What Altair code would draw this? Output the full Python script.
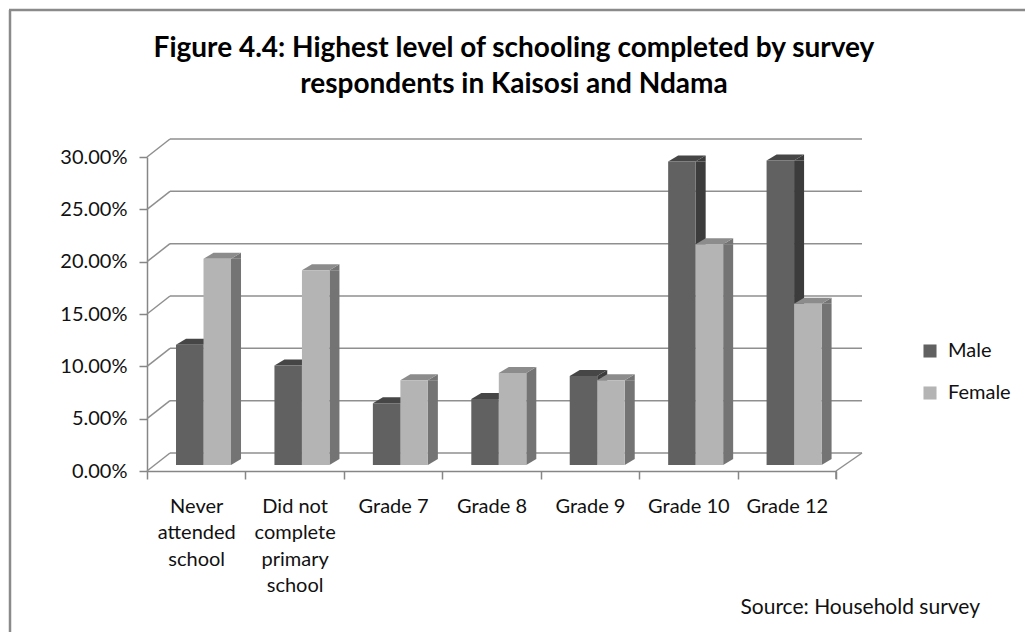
import altair as alt
import pandas as pd

# ---------------- data ----------------
categories = ["Never|attended|school", "Did not|complete|primary|school",
              "Grade 7", "Grade 8", "Grade 9", "Grade 10", "Grade 12"]
male = [0.115, 0.095, 0.059, 0.063, 0.085, 0.290, 0.291]
female = [0.197, 0.186, 0.081, 0.088, 0.081, 0.211, 0.154]
series = ["Male", "Female"]
y_ticks = [0.0, 0.05, 0.10, 0.15, 0.20, 0.25, 0.30]

title_line1 = "Figure 4.4: Highest level of schooling completed by survey"
title_line2 = "respondents in Kaisosi and Ndama"
source_text = "Source: Household survey"

df_m = pd.DataFrame({"cat": categories, "val": male, "zero": 0.0, "series": "Male"})
df_f = pd.DataFrame({"cat": categories, "val": female, "zero": 0.0, "series": "Female"})
df_ticks = pd.DataFrame({"val": y_ticks})

# ---------------- styles ----------------
FONT = "Lato"
W, H = 689, 314
GRID = "#8f8f8f"
AX = "#868686"
front_col = {"Male": "#616161", "Female": "#b4b4b4"}
top_col = {"Male": "#464646", "Female": "#8c8c8c"}
side_col = {"Male": "#3c3c3c", "Female": "#747474"}
DEPTH_Y = -6          # bars sit a little behind the front plane
BW = 27.5             # bar front width
# offsets of the front face centre relative to the band centre
front_dx = {"Male": -6.45, "Female": 21.05}

xs = alt.Scale(domain=categories, paddingInner=0, paddingOuter=0)
ys = alt.Scale(domain=[0, 0.30], nice=False, zero=True)

xaxis = alt.Axis(labelExpr="split(datum.label, '|')", labelAngle=0, labelFont=FONT,
                 labelFontSize=20, labelColor="#111", labelLineHeight=26.5,
                 labelBaseline="top", labelPadding=17, tickBand="extent", tickSize=8,
                 tickColor=AX, tickWidth=1.5, domainColor=AX, domainWidth=1.5,
                 title=None, grid=False)
yaxis = alt.Axis(values=y_ticks, format=".2%", labelFont=FONT, labelFontSize=20,
                 labelColor="#111", labelPadding=12, tickSize=8, tickColor=AX,
                 tickWidth=1.5, domainColor=AX, domainWidth=1.5, title=None, grid=False)

X = alt.X("cat:N", sort=categories, scale=xs, axis=xaxis, title=None)
Y = alt.Y("val:Q", scale=ys, axis=yaxis, title=None)

color_enc = alt.Color("series:N", scale=alt.Scale(domain=series,
                      range=[front_col["Male"], front_col["Female"]]),
                      legend=alt.Legend(orient="none", legendX=773, legendY=184, title=None,
                                        symbolType="square", symbolSize=170,
                                        symbolStrokeWidth=0, labelFont=FONT,
                                        labelFontSize=20, labelColor="#111",
                                        labelOffset=8, rowPadding=22, padding=0))

# ---------------- walls / floor ----------------
back_grid = alt.Chart(df_ticks).mark_rule(color=GRID, strokeWidth=1.5, yOffset=-18).encode(
    y=Y, x=alt.value(23), x2=alt.value(715))
side_diag = alt.Chart(df_ticks).mark_rule(color=GRID, strokeWidth=1.5, y2Offset=-18).encode(
    y=Y, y2=alt.Y2("val:Q"), x=alt.value(0), x2=alt.value(23))
floor_diag = alt.Chart(df_ticks[df_ticks.val == 0]).mark_rule(
    color=GRID, strokeWidth=1.5, y2Offset=-18).encode(
    y=Y, y2=alt.Y2("val:Q"), x=alt.value(689), x2=alt.value(715))
last_tick = alt.Chart(df_ticks[df_ticks.val == 0]).mark_rule(
    color=AX, strokeWidth=1.5).encode(x=alt.value(689), y=alt.value(H), y2=alt.value(H + 8))


# ---------------- 3D bars ----------------
def box(df, s):
    dx = front_dx[s]
    L = dx - BW / 2          # front-left x (rel. band centre)
    R = dx + BW / 2          # front-right x
    side_rect = alt.Chart(df).mark_bar(color=side_col[s], width=10, xOffset=R + 5,
                                       yOffset=DEPTH_Y, y2Offset=DEPTH_Y - 6).encode(
        x=X, y=Y, y2=alt.Y2("zero:Q"))
    tri_top = alt.Chart(df).mark_point(
        shape=f"M{R},0 L{R+10},-6 L{R+10},0 Z", size=4, filled=True, opacity=1,
        strokeWidth=0, color=side_col[s], yOffset=DEPTH_Y).encode(x=X, y=Y)
    tri_bot = alt.Chart(df).mark_point(
        shape=f"M{R},-6 L{R},0 L{R+10},-6 Z", size=4, filled=True, opacity=1,
        strokeWidth=0, color=side_col[s], yOffset=DEPTH_Y).encode(
        x=X, y=alt.Y("zero:Q", scale=ys, axis=yaxis, title=None))
    top_face = alt.Chart(df).mark_point(
        shape=f"M{L},0 L{R},0 L{R+10},-6 L{L+10},-6 Z", size=4, filled=True, opacity=1,
        strokeWidth=0, color=top_col[s], yOffset=DEPTH_Y).encode(x=X, y=Y)
    front = alt.Chart(df).mark_bar(width=BW, xOffset=dx, yOffset=DEPTH_Y,
                                   y2Offset=DEPTH_Y).encode(
        x=X, y=Y, y2=alt.Y2("zero:Q"), color=color_enc)
    return [side_rect, tri_top, tri_bot, top_face, front]


# ---------------- texts & frame ----------------
one = pd.DataFrame({"k": [0]})
title1 = alt.Chart(one).mark_text(font=FONT, fontSize=28, fontWeight="bold", color="#000",
                                  align="center", baseline="alphabetic").encode(
    x=alt.value(367), y=alt.value(-100), text=alt.value(title_line1))
title2 = alt.Chart(one).mark_text(font=FONT, fontSize=28, fontWeight="bold", color="#000",
                                  align="center", baseline="alphabetic").encode(
    x=alt.value(367), y=alt.value(-64), text=alt.value(title_line2))
source = alt.Chart(one).mark_text(font=FONT, fontSize=21, color="#111",
                                  align="right", baseline="middle").encode(
    x=alt.value(833), y=alt.value(451), text=alt.value(source_text))
frame_left = alt.Chart(one).mark_rule(color="#8a8a8a", strokeWidth=2.5).encode(
    x=alt.value(-137), y=alt.value(-147), y2=alt.value(480))
frame_top = alt.Chart(one).mark_rule(color="#8a8a8a", strokeWidth=2.5).encode(
    x=alt.value(-138), x2=alt.value(880), y=alt.value(-147))

layers = [back_grid, side_diag, floor_diag] + box(df_m, "Male") + box(df_f, "Female") + \
         [last_tick, title1, title2, source, frame_left, frame_top]

chart = alt.layer(*layers).properties(
    width=W, height=H,
    autosize=alt.AutoSizeParams(type="none"),
    padding={"left": 147, "top": 157, "right": 189, "bottom": 161},
    background="white",
).configure_view(stroke=None)

chart.save("out.html", embed_options={"renderer": "svg", "actions": False})
